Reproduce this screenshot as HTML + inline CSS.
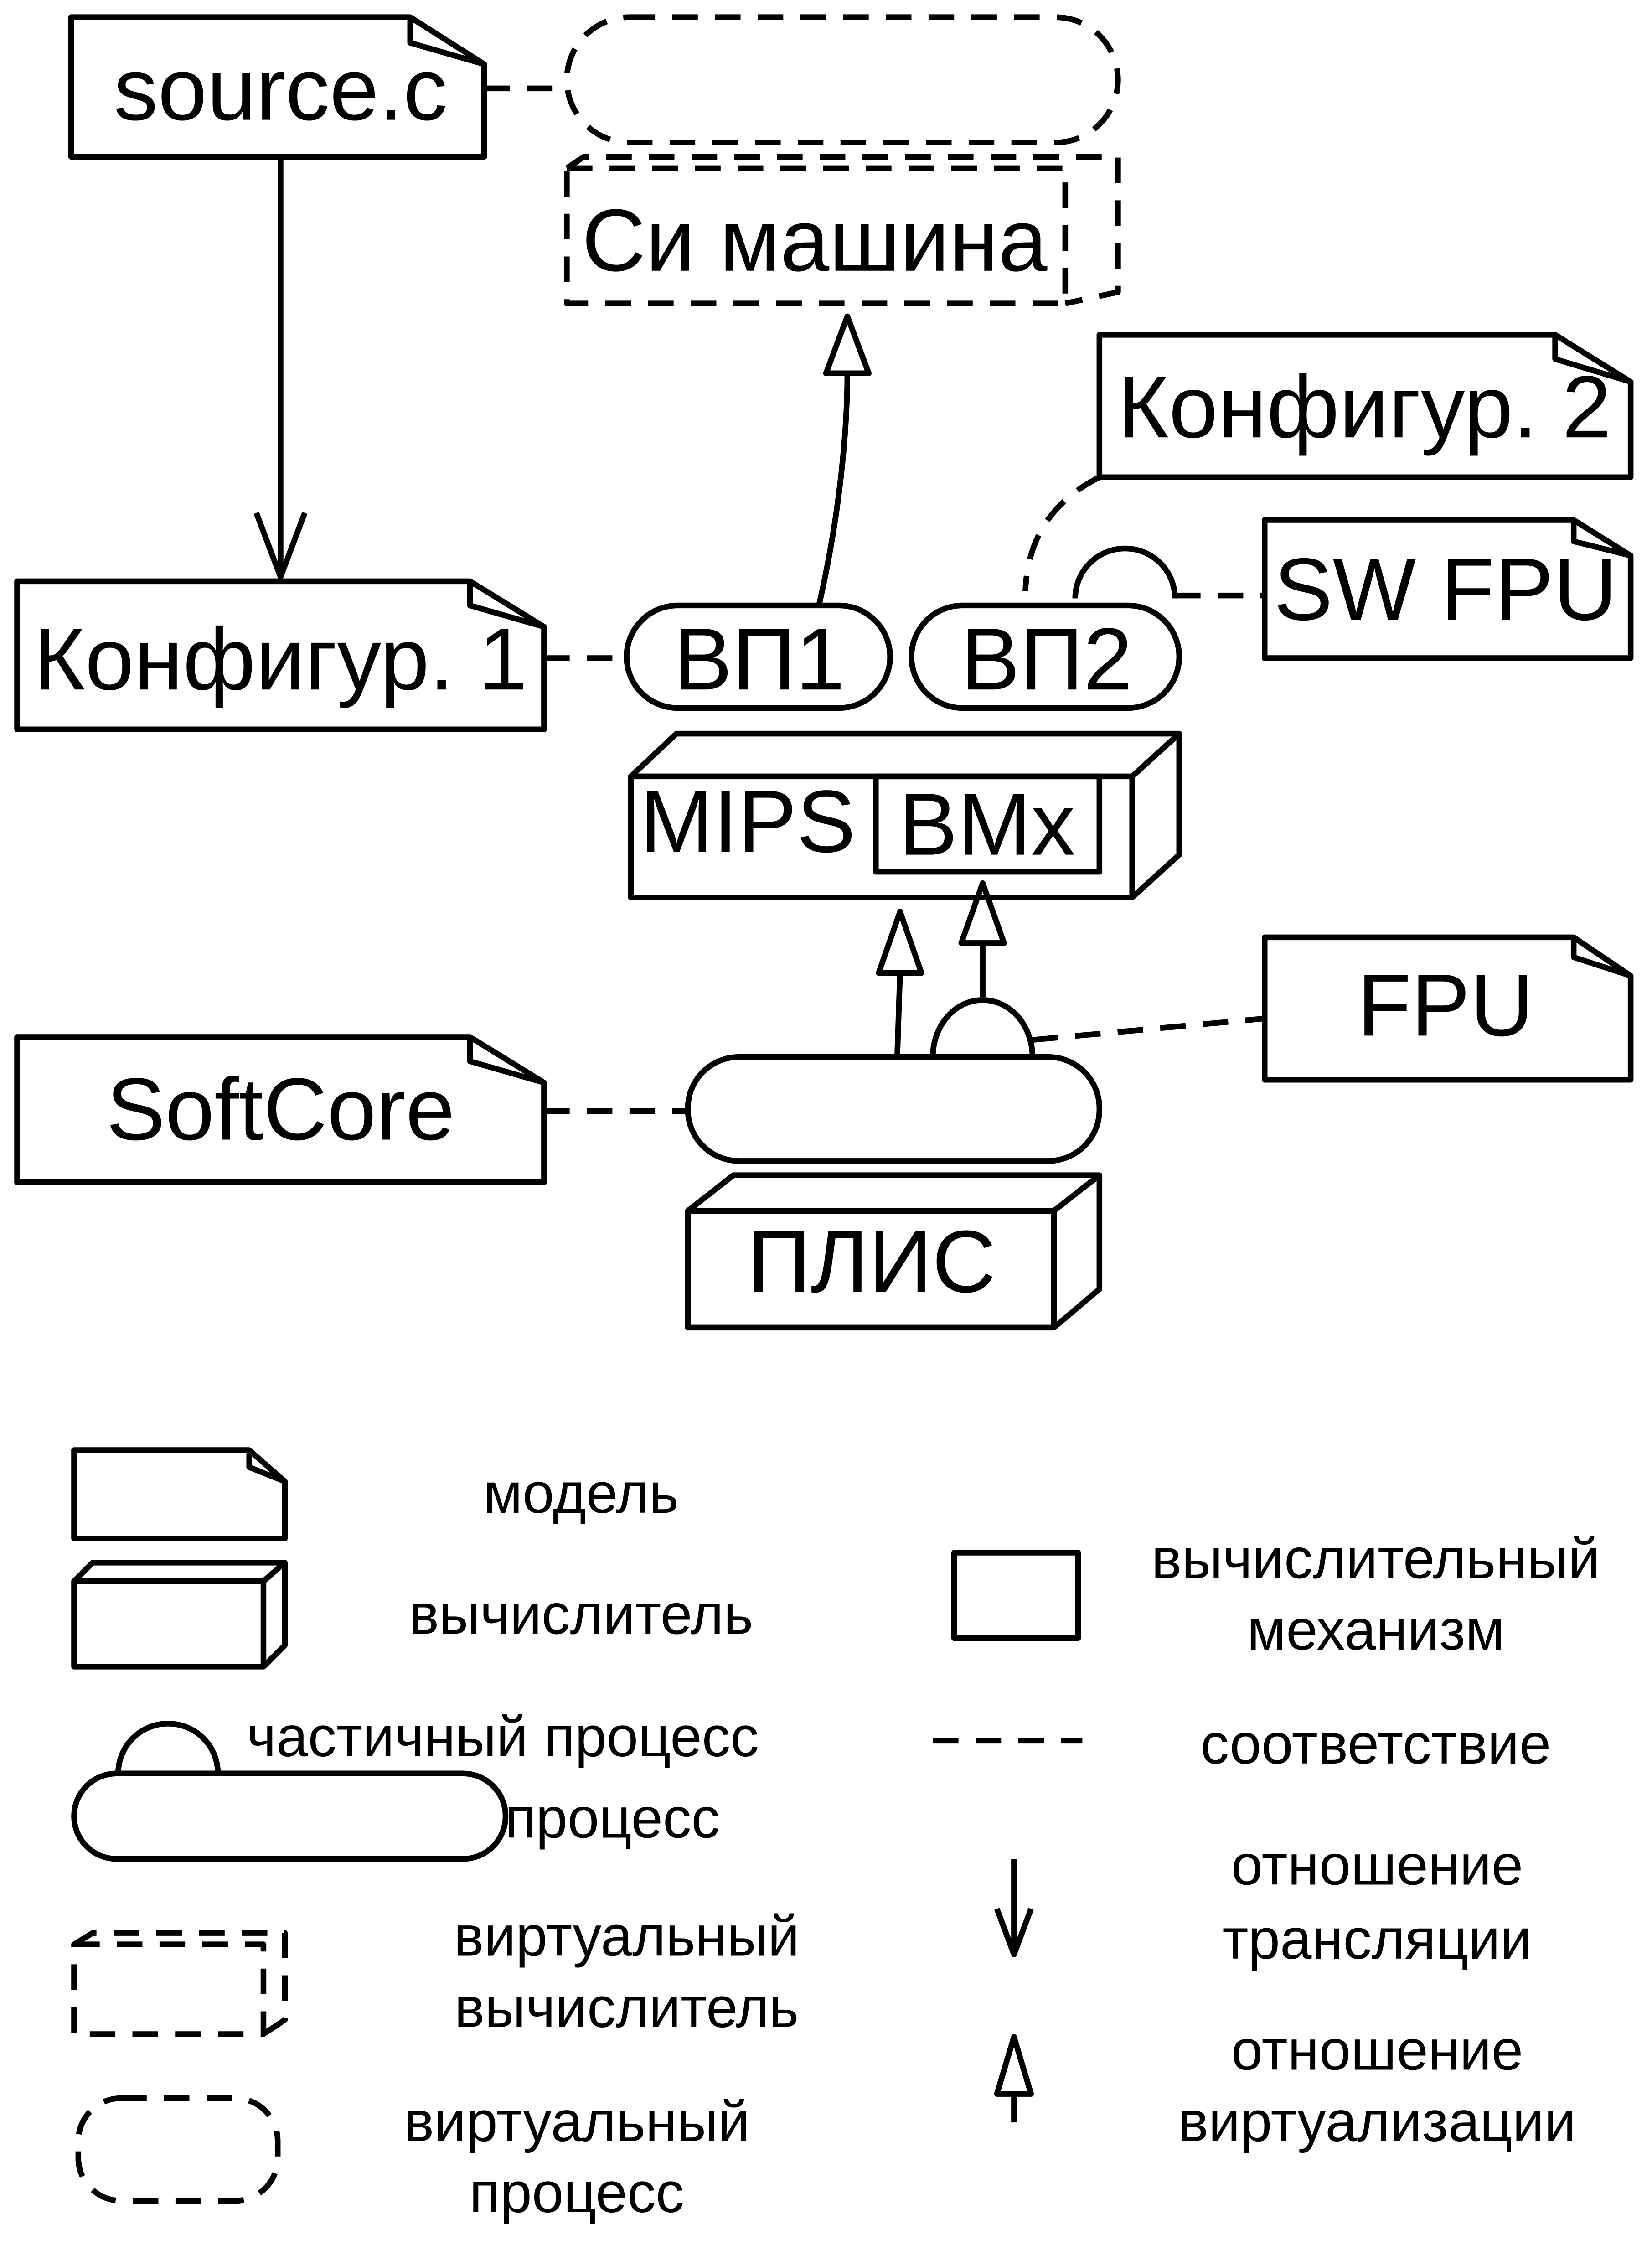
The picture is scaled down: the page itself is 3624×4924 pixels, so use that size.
<!DOCTYPE html>
<html><head><meta charset="utf-8"><style>html,body{margin:0;padding:0;background:#fff}svg{display:block}</style></head>
<body>
<svg xmlns="http://www.w3.org/2000/svg" width="3624" height="4924" viewBox="0 0 1160 1576">
<g fill="none" stroke="#000" stroke-width="4" stroke-linejoin="round">
<path d="M50,12 H288 L340,45 V110 H50 Z M288,12 V30 L340,45"/>
<path d="M772,235 H1092 L1145,268 V335 H772 Z M1092,235 V252 L1145,268"/>
<path d="M888,365 H1105 L1145,390 V462 H888 Z M1105,365 V380 L1145,390"/>
<path d="M12,408 H330 L382,440 V512 H12 Z M330,408 V425 L382,440"/>
<path d="M888,658 H1105 L1145,685 V758 H888 Z M1105,658 V672 L1145,685"/>
<path d="M12,728 H330 L382,760 V830 H12 Z M330,728 V745 L382,760"/>
<g stroke-dasharray="18,12">
<line x1="340" y1="62" x2="398" y2="62"/>
<rect x="398" y="12" width="387" height="88" rx="44"/>
<path d="M398,118 H748 V213 H398 Z M398,118 L410,110 H785 V205 L748,213"/>
<path d="M772,335 Q722,360 720,415"/>
<line x1="825" y1="418" x2="888" y2="418"/>
<line x1="382" y1="462" x2="440" y2="462"/>
<line x1="725" y1="730" x2="888" y2="715"/>
<line x1="382" y1="780" x2="483" y2="780"/>
<line x1="655" y1="1222" x2="760" y2="1222"/>
<path d="M52,1365 H185 V1428 H52 Z M52,1365 L65,1357 H200 V1418 L185,1428"/>
<rect x="55" y="1473" width="140" height="72" rx="30"/>
</g>
<line x1="197" y1="110" x2="197" y2="405"/>
<path d="M180,360 L197,405 L214,360"/>
<path d="M575,425 C590,360 595,300 595,262"/>
<path d="M580,262 L595,222 L610,262 Z"/>
<path d="M755,420 A35,35 0 1 1 825,420"/>
<rect x="440" y="425" width="185" height="72" rx="36"/>
<rect x="640" y="425" width="188" height="72" rx="36"/>
<path d="M443,545 H795 V630 H443 Z M443,545 L475,515 H828 V600 L795,630 M795,545 L828,515"/>
<rect x="615" y="545" width="157" height="67"/>
<line x1="630" y1="742" x2="632" y2="683"/>
<path d="M617,683 L632,640 L647,683 Z"/>
<line x1="690" y1="700" x2="690" y2="662"/>
<path d="M675,662 L690,620 L705,662 Z"/>
<path d="M655,742 A35,40 0 0 1 725,742"/>
<rect x="483" y="742" width="289" height="73" rx="36"/>
<path d="M483,850 H740 V932 H483 Z M483,850 L515,825 H772 V905 L740,932 M740,850 L772,825"/>
<path d="M52,1018 H175 L200,1040 V1080 H52 Z M175,1018 V1030 L200,1040"/>
<path d="M52,1110 H185 V1170 H52 Z M52,1110 L65,1097 H200 V1155 L185,1170 M185,1110 L200,1097"/>
<rect x="670" y="1090" width="87" height="60"/>
<path d="M83,1245 A35,35 0 0 1 153,1245"/>
<rect x="52" y="1245" width="303" height="60" rx="30"/>
<line x1="712" y1="1305" x2="712" y2="1372"/>
<path d="M700,1340 L712,1372 L724,1340"/>
<line x1="712" y1="1490" x2="712" y2="1470"/>
<path d="M700,1470 L712,1430 L724,1470 Z"/>
</g>
<g font-family="Liberation Sans, sans-serif" text-anchor="middle" fill="#000">
<g font-size="62">
<text x="197" y="84">source.c</text>
<text x="572" y="190">Си машина</text>
<text x="958" y="307">Конфигур. 2</text>
<text x="1015" y="435">SW FPU</text>
<text x="197" y="484">Конфигур. 1</text>
<text x="533" y="484">ВП1</text>
<text x="735" y="484">ВП2</text>
<text x="525" y="598">MIPS</text>
<text x="693" y="600">BMx</text>
<text x="1015" y="727">FPU</text>
<text x="197" y="800">SoftCore</text>
<text x="612" y="907">ПЛИС</text>
</g>
<g font-size="40">
<text x="408" y="1062">модель</text>
<text x="408" y="1147">вычислитель</text>
<text x="966" y="1108">вычислительный</text>
<text x="966" y="1158">механизм</text>
<text x="353" y="1233">частичный процесс</text>
<text x="430" y="1290">процесс</text>
<text x="966" y="1238">соответствие</text>
<text x="440" y="1373">виртуальный</text>
<text x="440" y="1423">вычислитель</text>
<text x="967" y="1323">отношение</text>
<text x="967" y="1375">трансляции</text>
<text x="405" y="1503">виртуальный</text>
<text x="405" y="1553">процесс</text>
<text x="967" y="1453">отношение</text>
<text x="967" y="1503">виртуализации</text>
</g>
</g>
</svg>
</body></html>
